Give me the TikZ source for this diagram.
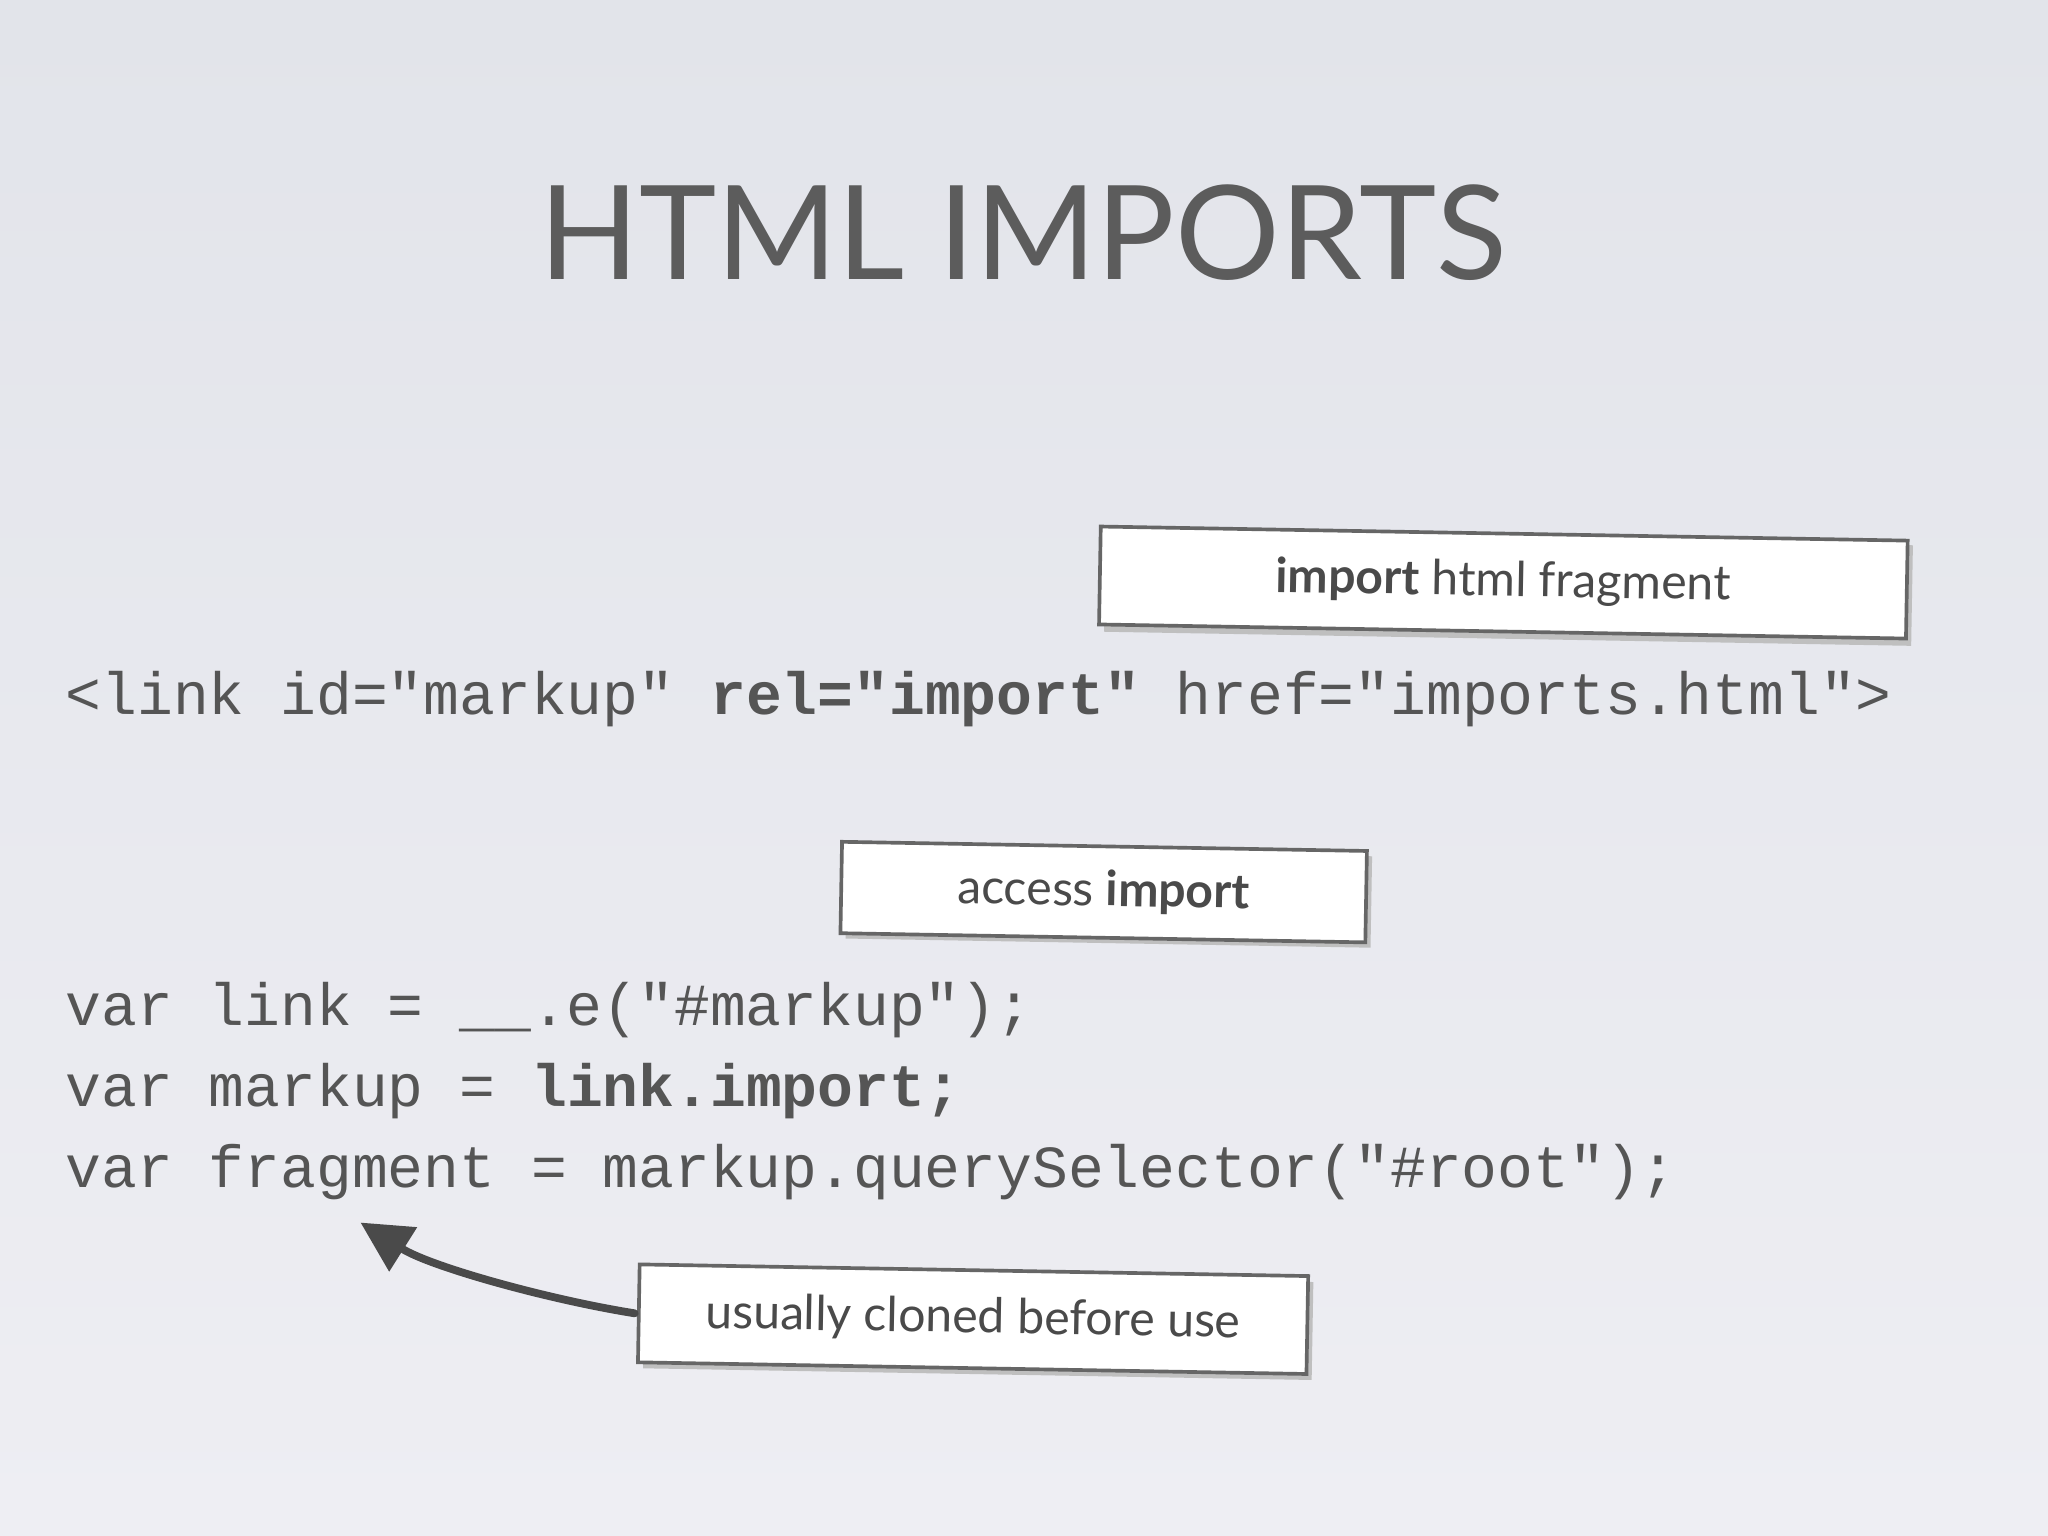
\documentclass[tikz,border=0pt]{standalone}
\usepackage{fontspec}
\setmainfont{Lato}
\setmonofont{Liberation Mono}
\usetikzlibrary{arrows.meta}
\definecolor{bgA}{HTML}{E2E4EA}
\definecolor{bgB}{HTML}{EEEEF3}
\definecolor{ink}{HTML}{4A4A4A}
\definecolor{code}{HTML}{555555}
\tikzset{
  note/.style={draw=gray!80!black, line width=1.6pt, fill=white, rotate=-1, inner sep=0pt,
    font=\fontsize{21}{25}\selectfont, text=ink},
  codeline/.style={anchor=base west, inner sep=0pt, font=\ttfamily\fontsize{26}{30}\selectfont, text=code}
}
\begin{document}
\begin{tikzpicture}[x=0.02cm,y=-0.02cm]
\shade[top color=bgA, bottom color=bgB] (0,0) rectangle (1568,1176);
\useasboundingbox (0,0) rectangle (1568,1176);
\node[font=\fontsize{57}{64}\selectfont, text=ink!90] (title) at (783,178) {HTML IMPORTS};
% code
\node[codeline] (l1) at (50,547) {<link id="markup" \textbf{rel="import"} href="imports.html">};
\node[codeline] (l2) at (50,785) {var link = \_\_.e("\#markup");};
\node[codeline] (l3) at (50,847) {var markup = \textbf{link.import;}};
\node[codeline] (l4) at (50,909) {var fragment = markup.querySelector("\#root");};
% notes (shadows)
\fill[black!25, rotate around={-1:(1151,447)}] (846,412) rectangle (1464,489);
\node[note, minimum width=12.36cm, minimum height=1.5cm] (n1) at (1151,446) {\textbf{import} html fragment};
\fill[black!25, rotate around={-1:(845,683)}] (648,652) rectangle (1050,722);
\node[note, minimum width=8.04cm, minimum height=1.4cm] (n2) at (845,683) {access \textbf{import}};
\fill[black!25, rotate around={-1:(745,1010)}] (493,977) rectangle (1005,1052);
\node[note, minimum width=10.24cm, minimum height=1.5cm] (n3) at (745,1010) {usually cloned before use};
\coordinate (tip) at (276,936);
\draw[line width=3.4pt, draw=ink, -{Triangle[length=22pt,width=22pt]}, line cap=round]
  ([xshift=-1pt]n3.west) .. controls (420,995) and (330,970) .. (tip);
\end{tikzpicture}
\end{document}
